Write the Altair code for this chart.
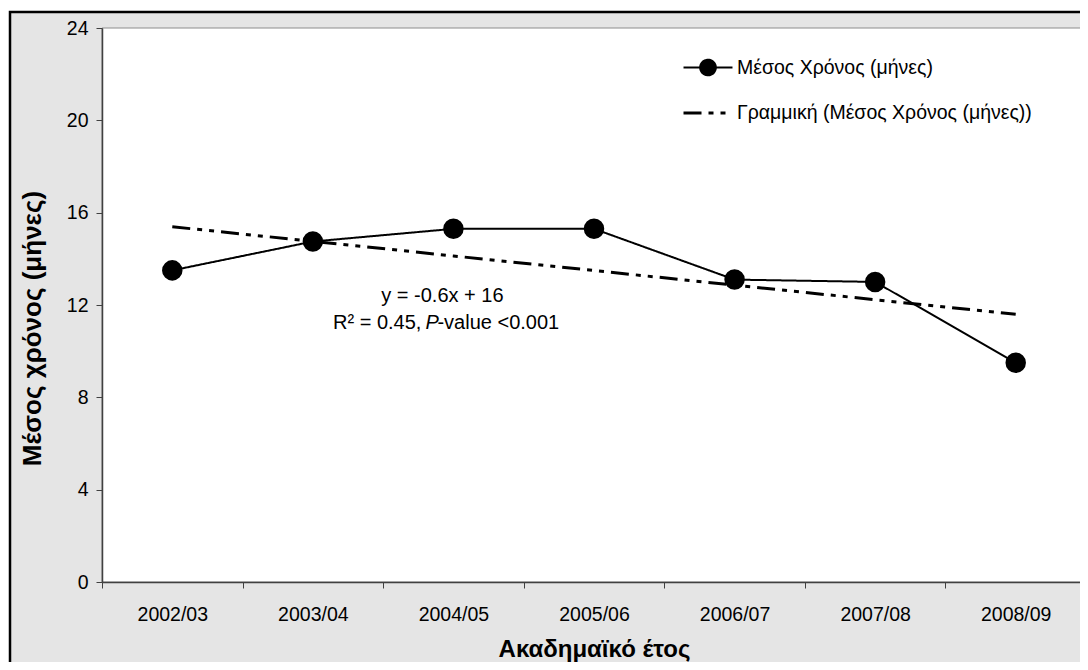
import altair as alt
import pandas as pd
import numpy as np

# ---- data ----
years = ["2002/03", "2003/04", "2004/05", "2005/06", "2006/07", "2007/08", "2008/09"]
mean_months = [13.5, 14.75, 15.3, 15.3, 13.1, 13.0, 9.5]
series_main = "Μέσος Χρόνος (μήνες)"
series_trend = "Γραμμική (Μέσος Χρόνος (μήνες))"
y_ticks = [0, 4, 8, 12, 16, 20, 24]
x_title = "Ακαδημαϊκό έτος"
y_title = "Μέσος χρόνος (μήνες)"
eq_text = "y = -0.6x + 16"
r2_text = "R² = 0.45,"
p_text = "P"
pval_text = "-value <0.001"
annot_year = "2004/05"
annot_y = [12.4, 11.2]

# linear trend fitted to the series (as the original chart's trendline)
idx = np.arange(1, len(years) + 1)
slope, intercept = np.polyfit(idx, mean_months, 1)
trend = slope * idx + intercept

df = pd.DataFrame({
    "year": years * 2,
    "value": list(mean_months) + list(trend),
    "series": [series_main] * len(years) + [series_trend] * len(years),
})
df_pts = df[df["series"] == series_main]

W, H = 984, 554
FONT = "Liberation Sans"

xenc = alt.X(
    "year:N", sort=years, bandPosition=0.5,
    scale=alt.Scale(type="band", paddingInner=0, paddingOuter=0),
    axis=alt.Axis(labelAngle=0, tickBand="extent", tickSize=6, labelPadding=17,
                  labelFontSize=19.5, labelFont=FONT, labelColor="black",
                  domainColor="#404040", tickColor="#404040", domainWidth=1.5,
                  titleFontSize=24, titleFont=FONT, titleFontWeight="bold",
                  titleColor="black", titlePadding=14, zindex=1),
    title=x_title,
)
yenc = alt.Y(
    "value:Q",
    scale=alt.Scale(domain=[0, 24], nice=False),
    axis=alt.Axis(values=y_ticks, tickSize=6, labelPadding=8, grid=False,
                  labelFontSize=19.5, labelFont=FONT, labelColor="black",
                  domainColor="#404040", tickColor="#404040", domainWidth=1.5,
                  titleFontSize=26, titleFont=FONT, titleFontWeight="bold",
                  titleColor="black", titlePadding=21, titleY=300, zindex=1),
    title=y_title,
)

sym_expr = ("datum.value === '" + series_main + "' ? "
            "'M-1,0H1M0.32,0A0.32,0.32,0,1,1,-0.32,0A0.32,0.32,0,1,1,0.32,0Z' : 'M-1,0H1'")

frame = alt.Chart(alt.Data(values=[{}])).mark_rect(
    fill="#e5e5e5", stroke="black", strokeWidth=2.5
).encode(x=alt.value(-92), x2=alt.value(W + 40), y=alt.value(-16), y2=alt.value(H + 140))

plotbg = alt.Chart(alt.Data(values=[{}])).mark_rect(
    fill="white", stroke="#8c8c8c", strokeWidth=1
).encode(x=alt.value(0), x2=alt.value(W), y=alt.value(0), y2=alt.value(H))

lines = alt.Chart(df).mark_line(color="black").encode(
    x=xenc, y=yenc,
    strokeDash=alt.StrokeDash(
        "series:N",
        scale=alt.Scale(domain=[series_main, series_trend], range=[[1, 0], [18, 7, 5, 7, 5, 7]]),
        legend=alt.Legend(orient="none", legendX=580, legendY=14, title=None,
                          labelFontSize=19.5, labelFont=FONT, labelColor="black",
                          labelLimit=0,
                          symbolType=alt.ExprRef(sym_expr), symbolSize=2400,
                          symbolStrokeWidth=2, symbolStrokeColor="black",
                          symbolFillColor="black", labelOffset=3, rowPadding=7),
    ),
    strokeWidth=alt.StrokeWidth(
        "series:N",
        scale=alt.Scale(domain=[series_main, series_trend], range=[2, 3]),
        legend=None,
    ),
)

points = alt.Chart(df_pts).mark_circle(color="black", size=420, opacity=1).encode(
    x=xenc, y=yenc
)

ann = pd.DataFrame({"year": [annot_year], "y1": [annot_y[0]], "y2": [annot_y[1]]})
tbase = alt.Chart(ann)
tx = alt.X("year:N", sort=years, bandPosition=0.5)
FS = 20
t1 = tbase.mark_text(text=eq_text, font=FONT, fontSize=FS, color="black", dx=-11).encode(
    x=tx, y=alt.Y("y1:Q"))
t2 = tbase.mark_text(text=r2_text, font=FONT, fontSize=FS, color="black", align="right", dx=-32).encode(
    x=tx, y=alt.Y("y2:Q"))
t3 = tbase.mark_text(text=p_text, font=FONT, fontSize=FS, color="black", align="left",
                     fontStyle="italic", dx=-28).encode(x=tx, y=alt.Y("y2:Q"))
t4 = tbase.mark_text(text=pval_text, font=FONT, fontSize=FS, color="black", align="left", dx=-16).encode(
    x=tx, y=alt.Y("y2:Q"))

chart = alt.layer(frame, plotbg, lines, points, t1, t2, t3, t4).properties(
    width=W, height=H,
    padding={"left": 94, "top": 20, "right": -6, "bottom": 80},
    autosize=alt.AutoSizeParams(type="none"),
    background="white",
).configure_view(stroke=None)

chart.save("out.html", embed_options={"renderer": "svg", "actions": False})
